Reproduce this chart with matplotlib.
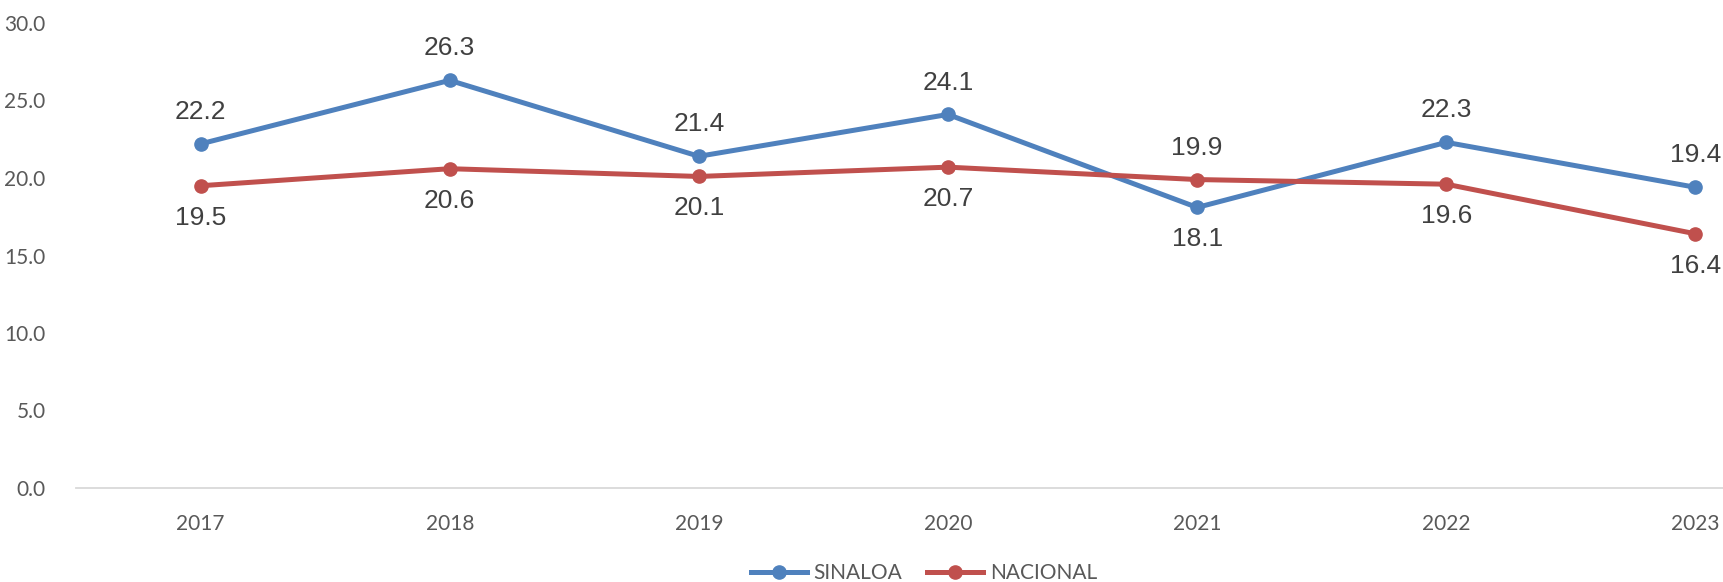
import matplotlib
matplotlib.use("Agg")
import matplotlib.pyplot as plt
from matplotlib.lines import Line2D

years = ["2017", "2018", "2019", "2020", "2021", "2022", "2023"]
sinaloa = [22.2, 26.3, 21.4, 24.1, 18.1, 22.3, 19.4]
nacional = [19.5, 20.6, 20.1, 20.7, 19.9, 19.6, 16.4]
sinaloa_above = [True, True, True, True, False, True, True]
nacional_above = [False, False, False, False, True, False, False]
yticks = [0, 5, 10, 15, 20, 25, 30]

BLUE = "#4F81BD"
RED = "#C0504D"
TXT = "#595959"

W, H = 1724, 582
fig = plt.figure(figsize=(W / 100, H / 100), dpi=100)
left = 76 / W
right = 1820 / W
bottom = 1 - 488 / H
top = 1 - 23 / H
ax = fig.add_axes([left, bottom, right - left, top - bottom])

x = list(range(len(years)))
ax.plot(x, sinaloa, color=BLUE, lw=3.6, marker="o", ms=9.5, solid_capstyle="round", label="SINALOA", clip_on=False, zorder=3)
ax.plot(x, nacional, color=RED, lw=3.6, marker="o", ms=9.5, solid_capstyle="round", label="NACIONAL", clip_on=False, zorder=3)

for xi, v, ab in zip(x, sinaloa, sinaloa_above):
    ax.annotate(f"{v:.1f}", (xi, v), xytext=(0, 23 if ab else -23), textcoords="offset points",
                ha="center", va="center", fontsize=19, color="#404040", family="Liberation Sans")
for xi, v, ab in zip(x, nacional, nacional_above):
    ax.annotate(f"{v:.1f}", (xi, v), xytext=(0, 23 if ab else -23), textcoords="offset points",
                ha="center", va="center", fontsize=19, color="#404040", family="Liberation Sans")

ax.set_xlim(-0.5, len(years) - 0.5)
ax.set_ylim(0, 30)
ax.set_yticks(yticks)
ax.set_yticklabels([f"{t:.1f}" for t in yticks])
ax.set_xticks(x)
ax.set_xticklabels(years)
for s in ["top", "right", "left"]:
    ax.spines[s].set_visible(False)
ax.spines["bottom"].set_color("#D9D9D9")
ax.spines["bottom"].set_linewidth(1.3)
ax.tick_params(axis="both", length=0, colors=TXT, labelsize=15)
ax.tick_params(axis="x", pad=19)
ax.tick_params(axis="y", pad=22)
for lab in ax.get_xticklabels() + ax.get_yticklabels():
    lab.set_family("Lato")

handles = [Line2D([0], [0], color=BLUE, lw=3.6, marker="o", ms=9.5),
           Line2D([0], [0], color=RED, lw=3.6, marker="o", ms=9.5)]
leg = fig.legend(handles, ["SINALOA", "NACIONAL"], loc="center", bbox_to_anchor=(924 / W, 1 - 573 / H),
                 ncol=2, frameon=False, prop={"family": "Lato", "size": 15}, handlelength=2.7,
                 columnspacing=1.2, handletextpad=0.3, borderaxespad=0)
for t in leg.get_texts():
    t.set_color(TXT)

fig.savefig("out.png", dpi=100)
